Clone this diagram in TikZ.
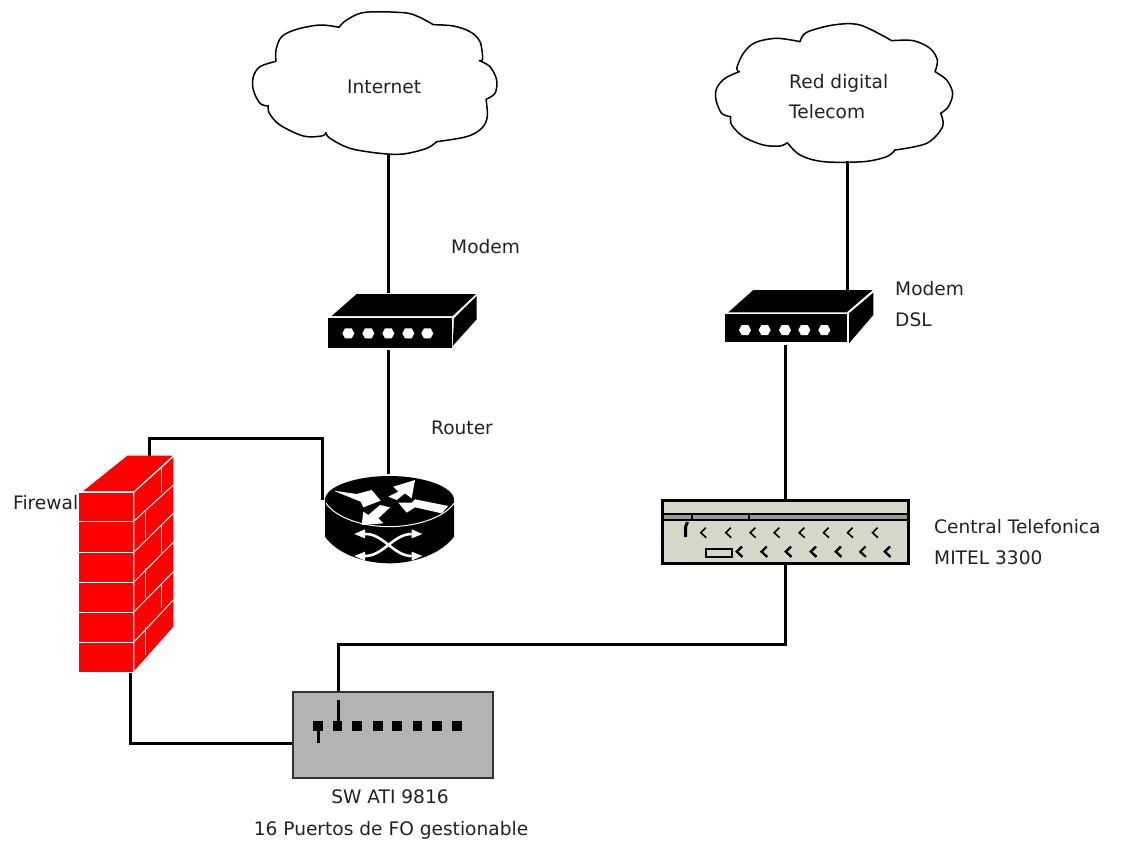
\documentclass[tikz,border=0pt]{standalone}
\usepackage{fontspec}
\setmainfont{DejaVu Sans}
\definecolor{labelgray}{HTML}{222222}
\definecolor{pbxfill}{HTML}{D6D6C9}
\definecolor{swfill}{HTML}{B3B3B3}
\definecolor{stripgray}{HTML}{9A9A9A}
\tikzset{
  lbl/.style={anchor=base west,inner sep=0pt,text=labelgray,font=\fontsize{18.6}{22}\selectfont},
  lblc/.style={anchor=base,inner sep=0pt,text=labelgray,font=\fontsize{18.6}{22}\selectfont},
  portpt/.style={inner sep=0pt,minimum size=0pt,outer sep=0pt},
  wire/.style={line width=3pt,black,line join=miter},
  cloudline/.style={line width=1.5pt,fill=white,line join=round},
  zoomed/.style={x=.33333pt,y=-.33333pt},
  lobe/.style={smooth,tension=.55},
  brick/.style={white,line width=1pt},
  chev/.style={line width=1.6pt,black,line join=miter},
  rarrow/.style={fill=white,draw=none}
}
\newcommand{\chevron}[2]{\draw[chev] (#1+2.5,#2-5) -- (#1-2.5,#2) -- (#1+3,#2+5);}
\begin{document}
\begin{tikzpicture}[x=1pt,y=-1pt]
\useasboundingbox[fill=white] (0,0) rectangle (1128,846);

% ---------- connector end points
\node[portpt] (internetS) at (388,155) {};
\node[portpt] (modemAN) at (388,293) {};
\node[portpt] (modemAS) at (388,350) {};
\node[portpt] (routerN) at (388,474) {};
\node[portpt] (routerW) at (322.5,500) {};
\node[portpt] (fwN) at (149,456) {};
\node[portpt] (fwS) at (130,673) {};
\node[portpt] (swP1) at (318,726) {};
\node[portpt] (swP2) at (338,726) {};
\node[portpt] (telecomS) at (847,161) {};
\node[portpt] (modemBN) at (847,290) {};
\node[portpt] (modemBS) at (785,345) {};
\node[portpt] (pbxN) at (785,500) {};
\node[portpt] (pbxS) at (785,564) {};

% ---------- clouds
\begin{scope}[shift={(240,0)},zoomed]
\draw[cloudline]
  plot[lobe] coordinates{(297,82)(320,60)(375,37)(490,38)(535,50)(580,74)}
  -- plot[lobe] coordinates{(580,74)(640,78)(690,95)(720,125)(728,178)(718,182)}
  -- plot[lobe] coordinates{(718,182)(750,200)(770,240)(765,280)(738,298)}
  -- plot[lobe] coordinates{(738,298)(742,350)(725,385)(680,410)(590,425)}
  -- plot[lobe] coordinates{(590,425)(560,445)(490,462)(420,460)(330,445)(270,415)(258,398)}
  -- plot[lobe] coordinates{(258,398)(245,408)(190,408)(120,375)(88,340)(85,318)}
  -- plot[lobe] coordinates{(85,318)(60,310)(40,270)(40,230)(60,200)(108,184)}
  -- plot[lobe] coordinates{(108,184)(108,150)(125,110)(170,88)(240,75)(297,82)} -- cycle;
\end{scope}
\begin{scope}[shift={(700,0)},zoomed]
\draw[cloudline]
  plot[lobe] coordinates{(300,125)(320,97)(400,75)(480,75)(575,122)}
  -- plot[lobe] coordinates{(575,122)(640,122)(690,145)(712,180)(705,215)}
  -- plot[lobe] coordinates{(705,215)(740,240)(758,280)(745,320)(722,340)}
  -- plot[lobe] coordinates{(722,340)(728,380)(680,430)(585,450)}
  -- plot[lobe] coordinates{(585,450)(560,470)(490,485)(370,485)(300,465)(262,428)}
  -- plot[lobe] coordinates{(262,428)(240,438)(190,435)(130,410)(95,375)(92,350)}
  -- plot[lobe] coordinates{(92,350)(65,340)(48,300)(50,265)(75,235)(118,215)}
  -- plot[lobe] coordinates{(118,215)(110,205)(130,160)(165,128)(230,115)(300,125)} -- cycle;
\end{scope}

% ---------- connectors
\draw[wire] (internetS) -- (modemAN);
\draw[wire] (modemAS) -- (routerN);
\draw[wire] (telecomS) -- (modemBN);
\draw[wire] (modemBS) -- (pbxN);
\draw[wire] (fwN) |- (322.5,438) -- (routerW);
\draw[wire] (fwS) |- (318,743) -- (swP1);
\draw[wire] (swP2) |- (785,644) -- (pbxS);

% ---------- labels
\node[lbl] (lblInternet) at (347,93) {Internet};
\node[lbl] (lblRed) at (789,88) {Red digital};
\node[lbl] (lblTelecom) at (789,118) {Telecom};
\node[lbl] (lblModemA) at (451,253) {Modem};
\node[lbl] (lblRouter) at (431,434) {Router};
\node[lbl] (lblModemB) at (895,295) {Modem};
\node[lbl] (lblDSL) at (895,326) {DSL};
\node[lbl] (lblCentral) at (934,533) {Central Telefonica};
\node[lbl] (lblMitel) at (934,564) {MITEL 3300};
\node[lbl] (lblFirewall) at (13,509) {Firewall};
\node[lblc] (lblSW) at (390,803) {SW ATI 9816};
\node[lblc] (lblPuertos) at (391,835) {16 Puertos de FO gestionable};

% ---------- modem A
\begin{scope}[shift={(300,270)},zoomed]
\fill[black] (95,138) -- (170,72) -- (528,72) -- (458,138) -- cycle;
\fill[black] (85,145) rectangle (455,235);
\fill[black] (462,145) -- (530,78) -- (530,148) -- (458,228) -- cycle;
\draw[white,line width=.8pt] (458,142) -- (528,76);
\foreach \hx in {145,205,265,325,382}
  \fill[white] (\hx-18,190) -- (\hx-10,175) -- (\hx+10,175) -- (\hx+18,190) -- (\hx+10,205) -- (\hx-10,205) -- cycle;
\end{scope}

% ---------- modem B
\begin{scope}[shift={(650,280)},zoomed]
\fill[black] (235,97) -- (310,30) -- (668,30) -- (590,97) -- cycle;
\fill[black] (225,103) rectangle (590,187);
\fill[black] (597,100) -- (670,38) -- (670,105) -- (597,190) -- cycle;
\draw[white,line width=.8pt] (598,95) -- (665,38);
\foreach \hx in {285,344,405,463,523}
  \fill[white] (\hx-18,150) -- (\hx-10,135) -- (\hx+10,135) -- (\hx+18,150) -- (\hx+10,165) -- (\hx-10,165) -- cycle;
\end{scope}

% ---------- router
\begin{scope}[shift={(300,270)},zoomed]
\fill[black] (75,690) -- (75,800) .. controls (110,850) and (190,880) .. (268,880)
  .. controls (345,880) and (425,850) .. (462,800) -- (462,690)
  .. controls (462,650) and (370,618) .. (268,618)
  .. controls (165,618) and (75,650) .. (75,690) -- cycle;
\draw[white,line width=1pt] (78,700) .. controls (110,745) and (190,770) .. (268,770)
  .. controls (345,770) and (430,745) .. (462,700);
\fill[rarrow] (100,662) -- (170,672) -- (215,660) -- (242,692) -- (190,712) -- (182,695) -- cycle;
\fill[rarrow] (265,680) -- (295,665) -- (280,650) -- (345,630) -- (335,685) -- (315,670) -- (290,690) -- cycle;
\fill[rarrow] (445,708) -- (345,688) -- (335,698) -- (295,698) -- (320,728) -- (345,712) -- (425,730) -- cycle;
\fill[rarrow] (270,712) -- (235,745) -- (250,760) -- (185,765) -- (190,725) -- (205,735) -- (240,705) -- cycle;
\draw[white,line width=2.6pt] (195,792) .. controls (250,790) and (280,858) .. (335,858);
\draw[white,line width=2.6pt] (195,858) .. controls (250,858) and (280,792) .. (335,792);
\fill[rarrow] (163,792) -- (195,778) -- (195,805) -- cycle;
\fill[rarrow] (367,792) -- (335,778) -- (335,805) -- cycle;
\fill[rarrow] (163,858) -- (195,845) -- (195,872) -- cycle;
\fill[rarrow] (367,858) -- (335,845) -- (335,872) -- cycle;
\end{scope}

% ---------- firewall
\begin{scope}[shift={(0,430)},zoomed]
\fill[red] (250,183) -- (382,77) -- (518,77) -- (402,183) -- cycle;
\fill[red] (238,188) rectangle (399,725);
\fill[red] (403,185) -- (520,80) -- (520,590) -- (403,722) -- cycle;
\foreach \ly in {275,367,457,547,637}
  \draw[brick] (238,\ly) -- (399,\ly);
\draw[brick] (401,185) -- (401,725);
\foreach \a/\b in {185/80,272/165,365/250,455/337,545/425,635/510}
  \draw[brick] (403,\a) -- (520,\b);
\foreach \vx/\a/\b in {485/110/190,438/240/325,485/285/370,438/415/505,485/462/535,438/590/675}
  \draw[brick] (\vx,\a) -- (\vx,\b);
\end{scope}

% ---------- central telefonica
\fill[black] (785,499) rectangle (785,499);
\draw[line width=3pt,fill=pbxfill] (662.5,500.5) rectangle (908,563);
\fill[stripgray] (664,514) rectangle (906.5,520);
\draw[line width=2pt] (663,513.5) -- (907,513.5);
\draw[line width=2.4pt] (663,520) -- (907,520);
\draw[line width=2pt] (692,513.5) -- (692,520);
\draw[line width=2pt] (749,513.5) -- (749,520);
\draw[line width=3pt] (685.5,537) -- (685.5,527) -- (687.5,522);
\foreach \cx in {703.3,728.3,752.7,776.7,801.7,826,850,875}
  \chevron{\cx}{532.7}
\foreach \cx in {739.3,764,788.3,813.3,838.3,862.7,887.3}
  \chevron{\cx}{551.7}
\draw[line width=2pt,fill=pbxfill] (705.5,549) rectangle (731.5,556.5);

% ---------- switch
\draw[line width=1.8pt,draw=black!80,fill=swfill] (293.3,691.7) rectangle (492.7,778.3);
\foreach \px in {317.7,337.3,357,377.7,396.7,417.3,437,456.7}
  \fill[black] (\px-4.8,721) rectangle (\px+4.8,730.5);
\draw[wire] (fwS |- swP1) (318,743) -- (swP1);
\draw[wire] (338,700) -- (swP2);
\end{tikzpicture}
\end{document}
